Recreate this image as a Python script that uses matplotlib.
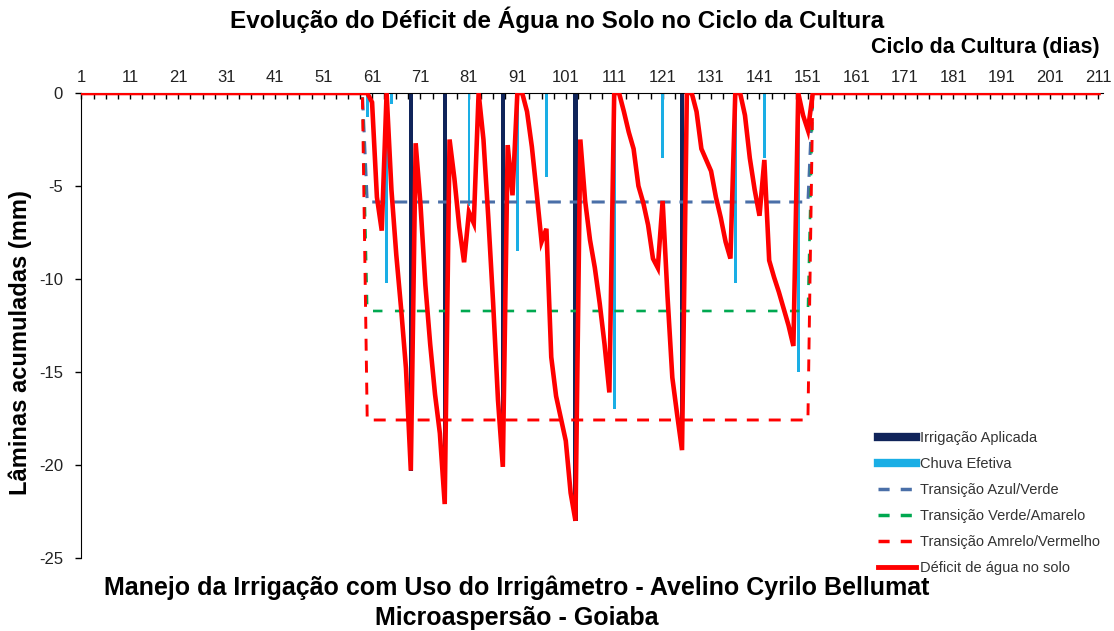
import numpy as np
import matplotlib
matplotlib.use("Agg")
import matplotlib.pyplot as plt
from matplotlib import font_manager
from matplotlib.lines import Line2D

names = {f.name for f in font_manager.fontManager.ttflist}
narrow = "Liberation Sans Narrow" if "Liberation Sans Narrow" in names else "Liberation Sans"
plt.rcParams["font.family"] = ["Liberation Sans", "DejaVu Sans"]
plt.rcParams["lines.scale_dashes"] = False
plt.rcParams["axes.unicode_minus"] = False

# dias do ciclo
dias = np.arange(1, 212)

# déficit de água no solo (mm), dias 60 a 152; zero fora deste intervalo
deficit_inicio = 60
deficit_trecho = [
    0, -0.5, -5.6, -7.4, 0, -5.2, -8.7, -11.6, -14.8, -20.3,          # 60-69
    -2.7, -6.0, -10.3, -13.5, -16.2, -18.3, -22.1, -2.5, -4.6, -7.2,   # 70-79
    -9.1, -6.4, -7.0, 0, -2.5, -6.7, -11.3, -16.5, -20.1, -2.8,        # 80-89
    -5.5, 0, 0, -1.0, -2.9, -5.4, -8.0, -7.3, -14.2, -16.3,            # 90-99
    -17.5, -18.7, -21.5, -23.0, -2.5, -5.8, -7.9, -9.4, -11.3, -13.5,  # 100-109
    -16.1, 0, 0, -1.0, -2.1, -3.0, -5.0, -5.9, -7.1, -8.9,             # 110-119
    -9.4, -5.8, -10.9, -15.3, -17.3, -19.2, 0, 0, -1.0, -3.0,          # 120-129
    -3.6, -4.2, -5.6, -6.7, -8.0, -8.9, 0, 0, -1.2, -3.5,              # 130-139
    -5.2, -6.6, -3.6, -9.0, -9.9, -10.7, -11.6, -12.5, -13.6, 0,       # 140-149
    -1.2, -2.0, 0,                                                     # 150-152
]

# irrigação aplicada (dia, lâmina)
irrig_dias = [69, 76, 88, 103, 125]
irrig_lam = [-20.3, -22.0, -20.0, -23.0, -19.2]

# chuva efetiva (dia, lâmina)
chuva_dias = [60, 64, 65, 81, 91, 97, 111, 121, 136, 142, 149]
chuva_lam = [-1.3, -10.2, -0.6, -6.1, -8.5, -4.5, -17.0, -3.5, -10.2, -3.5, -15.0]

# limites de transição (mm) e período em que valem
lim_azul_verde = -5.86
lim_verde_amarelo = -11.72
lim_amarelo_vermelho = -17.58
lim_inicio, lim_fim = 60, 151

deficit = np.zeros(len(dias))
deficit[deficit_inicio - 1:deficit_inicio - 1 + len(deficit_trecho)] = deficit_trecho
periodo = (dias >= lim_inicio) & (dias <= lim_fim)

fig = plt.figure(figsize=(11.14, 6.31), dpi=100)
ax = fig.add_axes([81 / 1114, 1 - 558 / 631, (1103 - 81) / 1114, (558 - 93) / 631])

ax.bar(irrig_dias, irrig_lam, width=0.85, color="#10245A", zorder=2)
ax.bar(chuva_dias, chuva_lam, width=0.55, color="#1AAEE5", zorder=2)

ax.plot(dias, np.where(periodo, lim_azul_verde, 0), color="#4A6FA8", lw=2.2,
        dashes=(9.4, 6.4), zorder=3)
ax.plot(dias, np.where(periodo, lim_verde_amarelo, 0), color="#00A850", lw=1.9,
        dashes=(6.8, 9.0), zorder=3)
ax.plot(dias, np.where(periodo, lim_amarelo_vermelho, 0), color="#FF0000", lw=2.1,
        dashes=(8.6, 7.2), zorder=3)
ax.plot(dias, deficit, color="#FF0000", lw=3.3, zorder=4, solid_joinstyle="miter")

ax.set_xlim(0.897, 211.93)
ax.set_ylim(-25, 0)
ax.spines["right"].set_visible(False)
ax.spines["bottom"].set_visible(False)
ax.xaxis.tick_top()
ax.set_xticks(np.arange(1, 212, 10))
ax.set_xticks(np.arange(1, 212, 2.5), minor=True)
ax.tick_params(axis="x", which="both", direction="in", length=4, width=1, pad=6,
               labelsize=12)
ax.set_yticks(np.arange(-25, 1, 5))
ax.tick_params(axis="y", direction="out", length=4, width=1, pad=9, labelsize=12)
for lab in ax.get_xticklabels() + ax.get_yticklabels():
    lab.set_family(narrow)
    lab.set_color("#222222")

fig.text(0.5, 1 - 20 / 631, "Evolução do Déficit de Água no Solo no Ciclo da Cultura",
         ha="center", va="center", fontsize=17.5, fontweight="bold", family=narrow)
fig.text(1100 / 1114, 1 - 47 / 631, "Ciclo da Cultura (dias)", ha="right", va="center",
         fontsize=15.5, fontweight="bold", family=narrow)
fig.text(20 / 1114, 1 - 343 / 631, "Lâminas acumuladas (mm)", rotation=90,
         ha="center", va="center", fontsize=17, fontweight="bold")
fig.text(517 / 1114, 1 - 588 / 631,
         "Manejo da Irrigação com Uso do Irrigâmetro - Avelino Cyrilo Bellumat",
         ha="center", va="center", fontsize=18, fontweight="bold", family=narrow)
fig.text(517 / 1114, 1 - 618 / 631, "Microaspersão - Goiaba",
         ha="center", va="center", fontsize=18, fontweight="bold", family=narrow)

handles = [
    Line2D([], [], color="#10245A", lw=6),
    Line2D([], [], color="#1AAEE5", lw=6),
    Line2D([], [], color="#4A6FA8", lw=2.5, dashes=(8, 8)),
    Line2D([], [], color="#00A850", lw=2.5, dashes=(8, 8)),
    Line2D([], [], color="#FF0000", lw=2.5, dashes=(8, 8)),
    Line2D([], [], color="#FF0000", lw=3.5),
]
labels = ["Irrigação Aplicada", "Chuva Efetiva", "Transição Azul/Verde",
          "Transição Verde/Amarelo", "Transição Amrelo/Vermelho",
          "Déficit de água no solo"]
fig.legend(handles, labels, loc="upper left", bbox_to_anchor=(0.776, 1 - 418 / 631),
           frameon=False, fontsize=10.5, handlelength=2.6, handletextpad=0.3,
           labelspacing=0.82, labelcolor="#333333")

fig.savefig("out.png", dpi=100)
